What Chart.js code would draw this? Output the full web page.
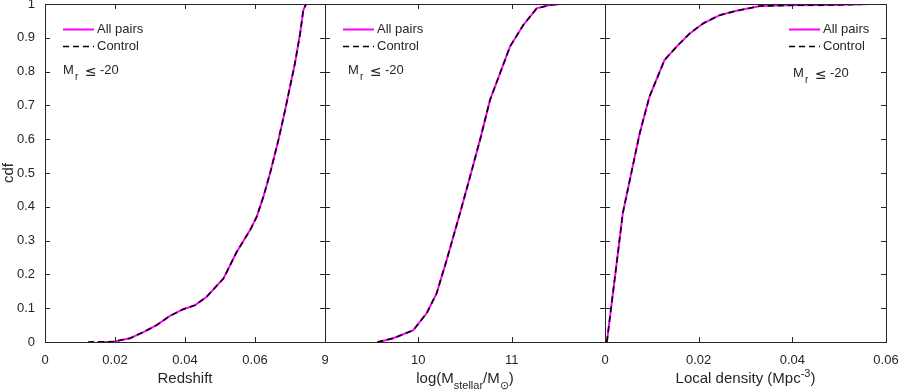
<!DOCTYPE html>
<html>
<head>
<meta charset="utf-8">
<script src="https://cdn.jsdelivr.net/npm/chart.js@4.4.1/dist/chart.umd.min.js"></script>
<style>
  body { margin: 0; background: #fff; }
  #wrap { position: relative; width: 899px; height: 392px; }
  #wrap canvas { position: absolute; left: 0; top: 0; }
</style>
</head>
<body>
<div id="wrap">
  <canvas id="p1" width="899" height="392"></canvas>
  <canvas id="p2" width="899" height="392"></canvas>
  <canvas id="p3" width="899" height="392"></canvas>
</div>
<script>
// values: [x, cdf]
const redshiftAll = [[0.0150,0],[0.0195,0.001],[0.0243,0.011],[0.0281,0.029],[0.0319,0.050],[0.0357,0.077],[0.0395,0.097],[0.0429,0.109],[0.0462,0.134],[0.0510,0.188],[0.0548,0.267],[0.0586,0.331],[0.0605,0.371],[0.0624,0.430],[0.0643,0.499],[0.0667,0.598],[0.0686,0.686],[0.0700,0.755],[0.0714,0.824],[0.0729,0.913],[0.0738,0.982],[0.0746,1.0]];
const redshiftControl = [[0.0123,0],[0.0195,0.001],[0.0243,0.011],[0.0281,0.029],[0.0319,0.050],[0.0357,0.077],[0.0395,0.097],[0.0429,0.109],[0.0462,0.134],[0.0510,0.188],[0.0548,0.267],[0.0586,0.331],[0.0605,0.371],[0.0624,0.430],[0.0643,0.499],[0.0667,0.598],[0.0686,0.686],[0.0700,0.755],[0.0714,0.824],[0.0729,0.913],[0.0738,0.982],[0.0746,1.0]];

const massAll = [[9.571,0],[9.732,0.011],[9.946,0.035],[10.089,0.085],[10.196,0.144],[10.304,0.243],[10.446,0.381],[10.554,0.489],[10.661,0.598],[10.768,0.716],[10.875,0.795],[10.982,0.874],[11.125,0.938],[11.268,0.987],[11.411,0.997],[11.536,1.0]];
const massControl = [[9.560,0],[9.732,0.011],[9.946,0.035],[10.089,0.085],[10.196,0.144],[10.304,0.243],[10.446,0.381],[10.554,0.489],[10.661,0.598],[10.768,0.716],[10.875,0.795],[10.982,0.874],[11.125,0.938],[11.268,0.987],[11.411,0.997],[11.536,1.0]];

const densityAll = [[0.0004,0],[0.0024,0.223],[0.0038,0.381],[0.0056,0.499],[0.0074,0.617],[0.0095,0.726],[0.0127,0.834],[0.0153,0.874],[0.0181,0.913],[0.0210,0.943],[0.0245,0.967],[0.0281,0.980],[0.0331,0.994],[0.0388,0.996],[0.0488,0.997],[0.0567,1.0]];
const densityControl = [[0.0004,0],[0.0024,0.223],[0.0038,0.381],[0.0056,0.499],[0.0074,0.617],[0.0095,0.726],[0.0127,0.834],[0.0153,0.874],[0.0181,0.913],[0.0210,0.943],[0.0245,0.967],[0.0281,0.980],[0.0331,0.994],[0.0388,0.996],[0.0488,0.997],[0.0567,1.0]];

const seriesNames = ["All pairs", "Control"];
const cutLabel = "-20";

const ink = "#262626";
const FONT = "'Liberation Sans', Arial, Helvetica, sans-serif";
Chart.defaults.font.family = FONT;
Chart.defaults.color = ink;

function toXY(pts) {
  return pts.map(p => ({ x: p[0], y: p[1] }));
}

// draws text made of pieces, some lowered (sub) or raised (sup)
function richText(ctx, parts, x, y, size, align) {
  const small = Math.round(size * 0.72);
  let w = 0;
  parts.forEach(p => {
    ctx.font = (p.sub || p.sup ? small : size) + "px " + FONT;
    p.w = ctx.measureText(p.t).width;
    w += p.w;
  });
  let cx = align === "center" ? x - w / 2 : x;
  parts.forEach(p => {
    ctx.font = (p.sub || p.sup ? small : size) + "px " + FONT;
    const dy = p.sub ? size * 0.38 : (p.sup ? -size * 0.42 : 0);
    ctx.fillText(p.t, cx, y + dy);
    cx += p.w;
  });
}

const deco = {
  id: "deco",
  afterDraw(chart, args, opts) {
    const ctx = chart.ctx, a = chart.chartArea;
    const xs = chart.scales.x, ys = chart.scales.y;
    ctx.save();
    ctx.strokeStyle = ink;
    ctx.lineWidth = 1;
    ctx.setLineDash([]);
    ctx.strokeRect(a.left + 0.5, a.top + 0.5, a.right - a.left, a.bottom - a.top);

    // inward ticks, MATLAB style
    const L = 5;
    ctx.beginPath();
    xs.ticks.forEach(t => {
      const px = Math.round(xs.getPixelForValue(t.value)) + 0.5;
      ctx.moveTo(px, a.bottom); ctx.lineTo(px, a.bottom - L);
      ctx.moveTo(px, a.top); ctx.lineTo(px, a.top + L);
    });
    ys.ticks.forEach(t => {
      const py = Math.round(ys.getPixelForValue(t.value)) + 0.5;
      ctx.moveTo(a.left, py); ctx.lineTo(a.left + L, py);
      ctx.moveTo(a.right, py); ctx.lineTo(a.right - L, py);
    });
    ctx.stroke();

    // legend
    ctx.fillStyle = ink;
    ctx.textBaseline = "middle";
    ctx.textAlign = "left";
    const lg = opts.legend;
    chart.data.datasets.forEach((ds, i) => {
      const y = lg.y + i * 17 + 0.5;
      const x0 = a.left + lg.x;
      ctx.strokeStyle = ds.borderColor;
      ctx.lineWidth = ds.borderWidth;
      ctx.setLineDash(ds.borderDash || []);
      ctx.beginPath();
      ctx.moveTo(x0, y); ctx.lineTo(x0 + 31, y);
      ctx.stroke();
      ctx.font = "13px " + FONT;
      ctx.fillText(ds.label, x0 + 34, y);
    });
    ctx.setLineDash([]);

    // M_r <= -20
    ctx.textBaseline = "alphabetic";
    const mx = a.left + lg.mx, my = lg.my;
    ctx.font = "13px " + FONT;
    ctx.fillText("M", mx, my);
    ctx.font = "10px " + FONT;
    ctx.fillText("r", mx + 12, my + 6);
    ctx.font = "14px 'DejaVu Sans', " + FONT;
    ctx.fillText("\u2264", mx + 22, my + 2);
    ctx.font = "13px " + FONT;
    ctx.fillText(cutLabel, mx + 37, my);

    // x title
    ctx.textAlign = "left";
    richText(ctx, opts.title, (a.left + a.right) / 2, 383, 15, "center");

    // y title
    if (opts.yTitle) {
      ctx.save();
      ctx.translate(13, (a.top + a.bottom) / 2);
      ctx.rotate(-Math.PI / 2);
      ctx.textAlign = "center";
      ctx.font = "15px " + FONT;
      ctx.fillText(opts.yTitle, 0, 0);
      ctx.restore();
    }
    ctx.restore();
  }
};

function fmt(v, d) {
  return String(parseFloat(v.toFixed(d)));
}

const panels = [
  {
    id: "p1", left: 45, right: 325, yw: 45,
    all: redshiftAll, control: redshiftControl,
    xmin: 0, xmax: 0.08, step: 0.02, digits: 2, hide: 0.08,
    title: [{ t: "Redshift" }], yTitle: "cdf",
    legend: { x: 18, y: 29, mx: 18, my: 74 }
  },
  {
    id: "p2", left: 325, right: 605, yw: 0,
    all: massAll, control: massControl,
    xmin: 9, xmax: 12, step: 1, digits: 0, hide: 12,
    title: [{ t: "log(M" }, { t: "stellar", sub: true }, { t: "/M" }, { t: "\u2299", sub: true }, { t: ")" }],
    legend: { x: 18, y: 29, mx: 23, my: 74 }
  },
  {
    id: "p3", left: 605, right: 886, yw: 0,
    all: densityAll, control: densityControl,
    xmin: 0, xmax: 0.06, step: 0.02, digits: 2, hide: null,
    title: [{ t: "Local density (Mpc" }, { t: "-3", sup: true }, { t: ")" }],
    legend: { x: 184, y: 29, mx: 188, my: 77 }
  }
];

panels.forEach(p => {
  const ctx = document.getElementById(p.id).getContext("2d");
  new Chart(ctx, {
    type: "line",
    data: {
      datasets: [
        {
          label: seriesNames[0],
          data: toXY(p.all),
          borderColor: "#ff00ff",
          borderWidth: 2,
          pointRadius: 0,
          tension: 0,
          order: 1
        },
        {
          label: seriesNames[1],
          data: toXY(p.control),
          borderColor: "#000000",
          borderWidth: 1.6,
          borderDash: [6, 4],
          pointRadius: 0,
          tension: 0,
          order: 0
        }
      ]
    },
    options: {
      responsive: false,
      animation: false,
      devicePixelRatio: 1,
      layout: { padding: { left: p.left - p.yw, right: 899 - p.right, top: 4, bottom: 0 } },
      plugins: {
        legend: { display: false },
        tooltip: { enabled: false },
        deco: { title: p.title, yTitle: p.yTitle, legend: p.legend }
      },
      scales: {
        x: {
          type: "linear",
          min: p.xmin,
          max: p.xmax,
          grid: { display: false, drawTicks: false },
          border: { display: false },
          ticks: {
            stepSize: p.step,
            autoSkip: false,
            maxRotation: 0,
            padding: 11,
            font: { size: 13 },
            color: ink,
            callback: v => (p.hide !== null && Math.abs(v - p.hide) < 1e-9) ? "" : fmt(v, p.digits)
          },
          afterFit: s => { s.height = 50; s.paddingLeft = 0; s.paddingRight = 0; }
        },
        y: {
          min: 0,
          max: 1,
          grid: { display: false, drawTicks: false },
          border: { display: false },
          ticks: {
            display: p.yw > 0,
            stepSize: 0.1,
            padding: 10,
            font: { size: 13 },
            color: ink,
            callback: v => fmt(v, 1)
          },
          afterFit: s => { s.width = p.yw; s.paddingTop = 0; s.paddingBottom = 0; }
        }
      }
    },
    plugins: [deco]
  });
});
</script>
</body>
</html>
